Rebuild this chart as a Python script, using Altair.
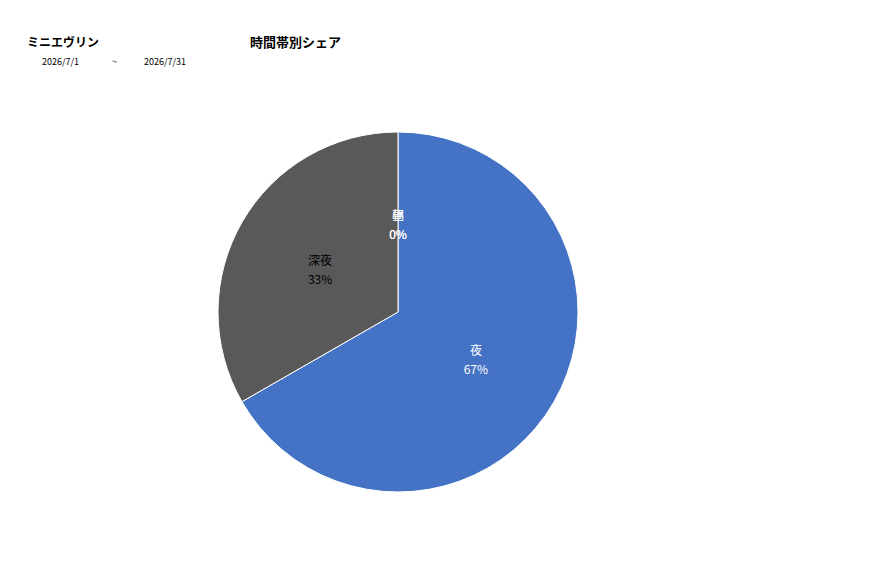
import altair as alt
import pandas as pd

# Data
categories = ["朝", "昼", "夜", "深夜"]
shares = [0.0, 0.0, 66.7, 33.3]
share_labels = ["0%", "0%", "67%", "33%"]
slice_colors = ["#ED7D31", "#A5A5A5", "#4472C4", "#595959"]

product = "ミニエヴリン"
chart_title = "時間帯別シェア"
date_from = "2026/7/1"
date_sep = "~"
date_to = "2026/7/31"

df = pd.DataFrame({
    "category": categories,
    "value": shares,
    "pct": share_labels,
    "order": list(range(len(categories))),
})
df["label"] = df["category"] + "\n" + df["pct"]

FONT = "Noto Sans CJK JP"
CX, CY, R = 390, 304, 180

base = alt.Chart(df).encode(
    theta=alt.Theta("value:Q", stack=True),
    order=alt.Order("order:O"),
)

pie = base.mark_arc(outerRadius=R, stroke="white", strokeWidth=1).encode(
    color=alt.Color("category:N",
                    scale=alt.Scale(domain=categories, range=slice_colors),
                    legend=None),
    x=alt.value(CX), y=alt.value(CY),
)

labels = base.mark_text(radius=90, font=FONT, fontSize=12, lineBreak="\n",
                        lineHeight=19, baseline="middle", align="center", dy=-6).encode(
    text="label:N",
    x=alt.value(CX), y=alt.value(CY),
    color=alt.condition(alt.datum.category == "深夜", alt.value("#000000"), alt.value("#FFFFFF")),
)

def txt(s, x, y, size, weight="normal", align="left"):
    return alt.Chart(pd.DataFrame({"t": [s]})).mark_text(
        font=FONT, fontSize=size, fontWeight=weight, align=align, baseline="middle",
        color="#000000"
    ).encode(text="t:N", x=alt.value(x), y=alt.value(y))

t1 = txt(product, 19, 35, 12, "bold")
t2 = txt(chart_title, 242, 35, 13, "bold")
t3 = txt(date_from, 34, 54, 9)
t4 = txt(date_sep, 104, 54, 9)
t5 = txt(date_to, 136, 54, 9)

chart = alt.layer(pie, labels, t1, t2, t3, t4, t5).properties(
    width=840, height=540,
    autosize=alt.AutoSizeParams(type="none"),
    padding=0,
    background="white",
).configure_view(strokeWidth=0, stroke="transparent")

chart.save("out.html", embed_options={"renderer": "svg", "actions": False})
